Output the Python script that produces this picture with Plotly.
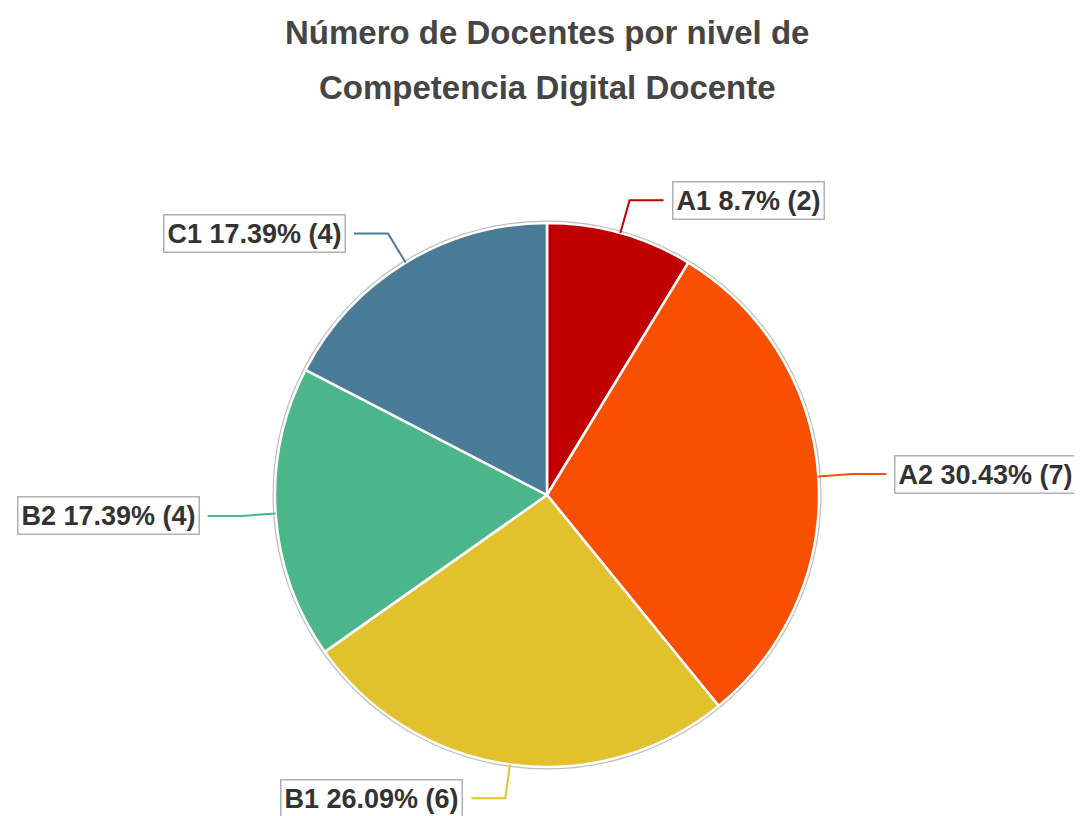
import math
import plotly.graph_objects as go

# ---- data ----
levels = ["A1", "A2", "B1", "B2", "C1"]
counts = [2, 7, 6, 4, 4]
colors = ["#C00000", "#F85000", "#E2C12E", "#4CB68B", "#4A7C98"]
title_lines = ["Número de Docentes por nivel de", "Competencia Digital Docente"]

W, H = 1082, 816
OFF = 8  # page body margin
CX, CY, R = 547, 495, 272  # pie centre / radius in screenshot px

def px_x(x):
    return (x - OFF) / W

def px_y(y):
    return 1 - (y - OFF) / H

fig = go.Figure(go.Pie(
    labels=levels,
    values=counts,
    sort=False,
    direction="clockwise",
    rotation=0,
    marker=dict(colors=colors, line=dict(color="white", width=2.5)),
    textinfo="none",
    hoverinfo="label+percent+value",
    showlegend=False,
    domain=dict(x=[px_x(CX - R), px_x(CX + R)], y=[px_y(CY + R), px_y(CY - R)]),
))

shapes = []
shapes.append(dict(type="circle", xref="paper", yref="paper", layer="below",
                   x0=px_x(CX - R - 1.5), x1=px_x(CX + R + 1.5),
                   y0=px_y(CY + R + 1.5), y1=px_y(CY - R - 1.5),
                   line=dict(color="#BDBDBD", width=2), fillcolor="rgba(0,0,0,0)"))

annotations = []
total = sum(counts)
cum = 0
for lab, c, col in zip(levels, counts, colors):
    mid = (cum + c / 2) / total * 2 * math.pi
    cum += c
    sx, sy = math.sin(mid), -math.cos(mid)
    p0 = (CX + R * sx, CY + R * sy)
    p1 = (CX + (R + 34) * sx, CY + (R + 34) * sy)
    side = 1 if sx >= 0 else -1
    p2 = (p1[0] + side * 34, p1[1])
    path = "M {} {} L {} {} L {} {}".format(px_x(p0[0]), px_y(p0[1]),
                                           px_x(p1[0]), px_y(p1[1]),
                                           px_x(p2[0]), px_y(p2[1]))
    shapes.append(dict(type="path", xref="paper", yref="paper", path=path,
                       line=dict(color=col, width=2)))
    pct = round(c / total * 100, 2)
    pct_s = ("%.2f" % pct).rstrip("0").rstrip(".")
    annotations.append(dict(
        x=px_x(p2[0] + side * 8), y=px_y(p2[1]), xref="paper", yref="paper",
        xanchor="left" if side > 0 else "right", yanchor="middle",
        text="<b>%s %s%% (%d)</b>" % (lab, pct_s, c), showarrow=False,
        font=dict(family="Liberation Sans, Arial, sans-serif", size=27, color="#333333"),
        bordercolor="#B0B0B0", borderwidth=1.5, borderpad=3, bgcolor="white"))

for i, t in enumerate(title_lines):
    annotations.append(dict(
        x=px_x(547), y=px_y(32 + i * 56), xref="paper", yref="paper",
        xanchor="center", yanchor="middle", showarrow=False,
        text="<b>%s</b>" % t,
        font=dict(family="Liberation Sans, Arial, sans-serif", size=33, color="#454545")))

fig.update_layout(
    width=W, height=H, margin=dict(l=0, r=0, t=0, b=0),
    paper_bgcolor="white", plot_bgcolor="white",
    shapes=shapes, annotations=annotations,
)

fig.write_html("out.html")
